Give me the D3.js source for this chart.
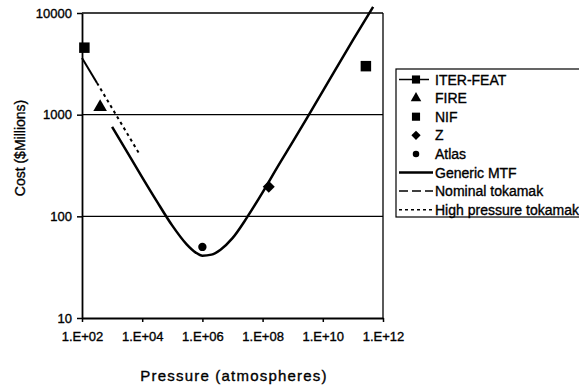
<!DOCTYPE html>
<html>
<head>
<meta charset="utf-8">
<script src="https://cdn.jsdelivr.net/npm/d3@7"></script>
<style>
  body { margin: 0; background: #fff; }
  svg { font-family: Arial, "Liberation Sans", sans-serif; }
  svg text { fill: #000; stroke: #000; stroke-width: 0.35px; }
</style>
</head>
<body>
<div id="root"></div>
<script>
// tick values
const xTicks = [1e2, 1e4, 1e6, 1e8, 1e10, 1e12];
const xTickLabels = ['1.E+02', '1.E+04', '1.E+06', '1.E+08', '1.E+10', '1.E+12'];
const yTicks = [10, 100, 1000, 10000];

// single machines
const pointNames = ['ITER-FEAT', 'FIRE', 'NIF', 'Z', 'Atlas'];
const pointPressure = [120, 400, 2.7e11, 1.6e8, 1e6];
const pointCost = [4560, 1190, 3000, 195, 50];

// Generic MTF curve
const mtfPressure = [1e3, 3e3, 1e4, 3e4, 1e5, 3e5, 6e5, 1e6, 2e6, 4e6, 1e7, 3e7, 1e8, 3e8, 1e9, 3e9, 1e10, 1e11, 4.7e11];
const mtfCost = [760, 440, 242, 142, 81, 53, 44, 41, 42, 47, 61, 97, 172, 300, 540, 930, 1700, 5400, 11500];

// tokamak lines
const nominalPressure = [100, 316];
const nominalCost = [3610, 2050];
const highPressure = [316, 8500];
const highCost = [2050, 400];

const w = 579, h = 385;
const plotL = 82, plotR = 383, plotT = 13, plotB = 318;

const svg = d3.select('#root').append('svg')
    .attr('width', w)
    .attr('height', h);

const x = d3.scaleLog().domain([1e2, 1e12]).range([plotL, plotR]);
const y = d3.scaleLog().domain([10, 10000]).range([plotB, plotT]);

// gridlines
svg.append('g')
    .selectAll('line')
    .data(yTicks.slice(1))
    .enter()
    .append('line')
    .attr('x1', plotL).attr('x2', plotR)
    .attr('y1', d => y(d)).attr('y2', d => y(d))
    .attr('stroke', '#000')
    .attr('stroke-width', 1.3);

// plot frame (right side)
svg.append('line')
    .attr('x1', plotR).attr('x2', plotR)
    .attr('y1', plotT).attr('y2', plotB)
    .attr('stroke', '#000').attr('stroke-width', 1.3);

// Axes
const xAxis = d3.axisBottom(x)
    .tickValues(xTicks)
    .tickFormat((d, i) => xTickLabels[i])
    .tickSizeInner(4).tickSizeOuter(0).tickPadding(10);
const yAxis = d3.axisLeft(y)
    .tickValues(yTicks)
    .tickFormat(d3.format('d'))
    .tickSizeInner(5).tickSizeOuter(0).tickPadding(5);

const gx = svg.append('g')
    .attr('transform', `translate(0,${plotB})`)
    .call(xAxis);
const gy = svg.append('g')
    .attr('transform', `translate(${plotL},0)`)
    .call(yAxis);

[gx, gy].forEach(g => {
    g.select('.domain').attr('stroke', '#000').attr('stroke-width', 1.8);
    g.selectAll('.tick line').attr('stroke', '#000').attr('stroke-width', 1.5);
    g.selectAll('.tick text').style('font-size', '13px');
});

// axis titles
svg.append('text')
    .attr('x', 234).attr('y', 381)
    .attr('text-anchor', 'middle')
    .style('font-size', '15px')
    .style('letter-spacing', '1.2px')
    .text('Pressure (atmospheres)');

svg.append('text')
    .attr('transform', 'translate(25,148) rotate(-90)')
    .attr('text-anchor', 'middle')
    .style('font-size', '14px')
    .text('Cost ($Millions)');

// lines
const line = d3.line()
    .x(d => x(d[0]))
    .y(d => y(d[1]));

svg.append('path')
    .datum(nominalPressure.map((p, i) => [p, nominalCost[i]]))
    .attr('d', line)
    .attr('fill', 'none').attr('stroke', '#000')
    .attr('stroke-width', 2)
    .attr('stroke-dasharray', '40,6');

svg.append('path')
    .datum(highPressure.map((p, i) => [p, highCost[i]]))
    .attr('d', line)
    .attr('fill', 'none').attr('stroke', '#000')
    .attr('stroke-width', 2)
    .attr('stroke-dasharray', '3,3.5');

svg.append('path')
    .datum(mtfPressure.map((p, i) => [p, mtfCost[i]]))
    .attr('d', line.curve(d3.curveMonotoneX))
    .attr('fill', 'none').attr('stroke', '#000')
    .attr('stroke-width', 2.5);

// markers (diamond = rotated square)
const symbols = [d3.symbolSquare, d3.symbolTriangle, d3.symbolSquare, d3.symbolSquare, d3.symbolCircle];
const sizes = [110, 80, 110, 72, 55];
const rotate = [0, 0, 0, 45, 0];

svg.append('g')
    .selectAll('path')
    .data(pointNames)
    .enter()
    .append('path')
    .attr('transform', (d, i) => `translate(${x(pointPressure[i])},${y(pointCost[i])}) rotate(${rotate[i]})`)
    .attr('d', (d, i) => d3.symbol(symbols[i], sizes[i])())
    .attr('fill', '#000');

// Legend
const lg = svg.append('g').attr('transform', 'translate(396,69)');
lg.append('rect')
    .attr('x', 0).attr('y', 0)
    .attr('width', 190).attr('height', 148)
    .attr('fill', '#fff').attr('stroke', '#000').attr('stroke-width', 1.2);

const legendNames = pointNames.concat(['Generic MTF', 'Nominal tokamak', 'High pressure tokamak']);
const rowH = 18.6;
legendNames.forEach((name, i) => {
    const cy = 10.5 + i * rowH;
    const row = lg.append('g').attr('transform', `translate(0,${cy})`);
    if (i === 0) {
        row.append('line').attr('x1', 3).attr('x2', 33).attr('y1', 0).attr('y2', 0)
            .attr('stroke', '#000').attr('stroke-width', 1.5);
    }
    if (i < 5) {
        row.append('path')
            .attr('transform', `translate(20,0) rotate(${rotate[i]})`)
            .attr('d', d3.symbol(symbols[i], sizes[i] * 0.6)())
            .attr('fill', '#000');
    } else {
        const dash = [null, '9,4', '3,3'][i - 5];
        row.append('line').attr('x1', 3).attr('x2', 37).attr('y1', 0).attr('y2', 0)
            .attr('stroke', '#000')
            .attr('stroke-width', i === 5 ? 2.5 : 1.5)
            .attr('stroke-dasharray', dash);
    }
    row.append('text')
        .attr('x', 39).attr('y', 5)
        .style('font-size', '14px')
        .text(name);
});
</script>
</body>
</html>
